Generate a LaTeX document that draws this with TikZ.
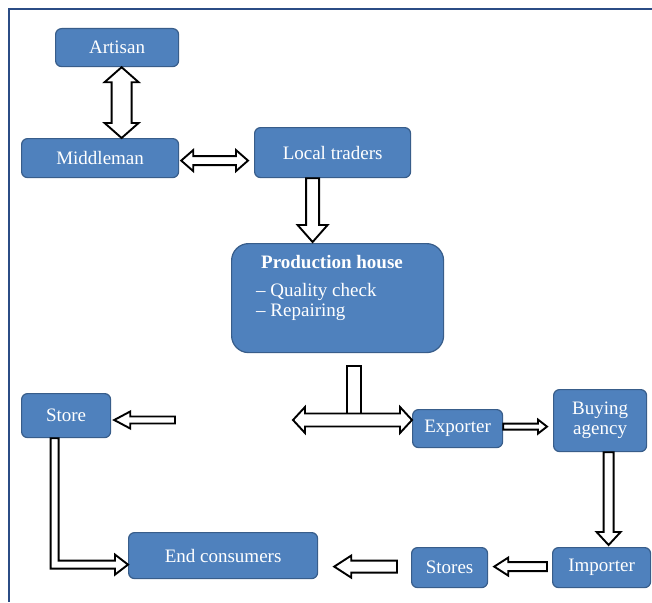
\documentclass[tikz,border=0pt]{standalone}
\usepackage{fontspec}
\setmainfont{Liberation Serif}
\usetikzlibrary{calc}
\definecolor{boxfill}{HTML}{4F81BD}
\definecolor{boxline}{HTML}{385D8A}
\definecolor{framecol}{HTML}{2B4C85}
\newcommand\dfs{\fontsize{19}{20}\selectfont}
\tikzset{
  box/.style={draw=boxline, line width=1.2pt, fill=boxfill, rounded corners=6pt,
    text=white, font=\dfs, inner sep=0pt, anchor=north west, align=center},
  blk/.style={draw=black, line width=1.9pt, fill=white, line join=miter},
  framel/.style={draw=framecol, line width=2.6pt}
}
% horizontal single arrow: from, to, shaft half, head half, head length, dir (+1 right, -1 left)
\newcommand{\harr}[6]{%
 \draw[blk] let \p1=(#1), \p2=(#2) in
  (\x1,{\y1+#3}) -- ({\x2-(#6)*(#5)},{\y1+#3}) -- ({\x2-(#6)*(#5)},{\y1+#4}) -- (\x2,\y1)
  -- ({\x2-(#6)*(#5)},{\y1-#4}) -- ({\x2-(#6)*(#5)},{\y1-#3}) -- (\x1,{\y1-#3}) -- cycle;}
% vertical single arrow: dir (+1 up, -1 down)
\newcommand{\varr}[6]{%
 \draw[blk] let \p1=(#1), \p2=(#2) in
  ({\x1+#3},\y1) -- ({\x1+#3},{\y2-(#6)*(#5)}) -- ({\x1+#4},{\y2-(#6)*(#5)}) -- (\x1,\y2)
  -- ({\x1-#4},{\y2-(#6)*(#5)}) -- ({\x1-#3},{\y2-(#6)*(#5)}) -- ({\x1-#3},\y1) -- cycle;}
% horizontal double arrow
\newcommand{\hdarr}[6]{%
 \draw[blk] let \p1=(#1), \p2=(#2) in
  (\x1,\y1) -- ({\x1+(#6)*(#5)},{\y1+#4}) -- ({\x1+(#6)*(#5)},{\y1+#3})
  -- ({\x2-(#6)*(#5)},{\y1+#3}) -- ({\x2-(#6)*(#5)},{\y1+#4}) -- (\x2,\y1)
  -- ({\x2-(#6)*(#5)},{\y1-#4}) -- ({\x2-(#6)*(#5)},{\y1-#3})
  -- ({\x1+(#6)*(#5)},{\y1-#3}) -- ({\x1+(#6)*(#5)},{\y1-#4}) -- cycle;}
% vertical double arrow
\newcommand{\vdarr}[6]{%
 \draw[blk] let \p1=(#1), \p2=(#2) in
  (\x1,\y1) -- ({\x1+#4},{\y1+(#6)*(#5)}) -- ({\x1+#3},{\y1+(#6)*(#5)})
  -- ({\x1+#3},{\y2-(#6)*(#5)}) -- ({\x1+#4},{\y2-(#6)*(#5)}) -- (\x1,\y2)
  -- ({\x1-#4},{\y2-(#6)*(#5)}) -- ({\x1-#3},{\y2-(#6)*(#5)})
  -- ({\x1-#3},{\y1+(#6)*(#5)}) -- ({\x1-#4},{\y1+(#6)*(#5)}) -- cycle;}
\begin{document}
\begin{tikzpicture}[x=1pt,y=-1pt]
\useasboundingbox (0,0) rectangle (652,602);
\fill[white] (0,0) rectangle (652,602);
\draw[framel] (652,9) -- (9,9) -- (9,602);

% nodes
\node[box, minimum width=123pt, minimum height=38pt] (Art) at (55,28) {Artisan};
\node[box, minimum width=157pt, minimum height=39pt] (Mid) at (21,138) {Middleman};
\node[box, minimum width=156pt, minimum height=50pt] (Loc) at (254,127) {Local traders};
\node[box, minimum width=212pt, minimum height=109pt, rounded corners=17pt] (Prod) at (231,243) {};
\node[anchor=north west, text=white, font=\dfs, align=left, inner sep=0pt] (ProdT)
  at ($(Prod.north west)+(25,12)$) {\hspace*{5pt}\textbf{Production house}\\[8pt]– Quality check\\– Repairing};
\node[box, minimum width=89pt, minimum height=44pt] (Store) at (21,393) {Store};
\node[box, minimum width=189pt, minimum height=46pt] (End) at (128,532) {End consumers};
\node[box, minimum width=90pt, minimum height=38pt] (Exp) at (412,409) {Exporter};
\node[box, minimum width=93pt, minimum height=62pt] (Buy) at (553,389) {Buying\\agency};
\node[box, minimum width=76pt, minimum height=40pt] (Sts) at (411,547) {Stores};
\node[box, minimum width=98pt, minimum height=40pt] (Imp) at (552,547) {Importer};

\coordinate (Tl) at (293,420);
\coordinate (Sr) at (175,420);

% connectors
\vdarr{$(Art.south)+(4.5,0)$}{Mid.north}{10pt}{17pt}{15pt}{-1}
\hdarr{$(Mid.east)+(2,2.5)$}{$(Loc.west)+(-6,0)$}{4.5pt}{10.5pt}{12pt}{1}
\varr{$(Loc.south)+(-20,0)$}{$(Prod.north)+(0,-1)$}{6.5pt}{15pt}{17pt}{-1}
\draw[blk] ($(Prod.south)+(9,13)$) rectangle ($(Prod.south)+(23,66)$);
\hdarr{Tl}{Exp.west}{6.5pt}{13pt}{12pt}{1}
\harr{Sr}{$(Store.east)+(3,0)$}{3.5pt}{8.5pt}{16pt}{-1}
\draw[blk] let \p1=($(Store.south)+(-11.5,0)$), \p2=($(End.west)+(0,9)$) in
  ({\x1-4pt},\y1) -- ({\x1-4pt},{\y2-4pt}) -- ({\x2-13pt},{\y2-4pt}) -- ({\x2-13pt},{\y2-10pt})
  -- (\x2,\y2) -- ({\x2-13pt},{\y2+10pt}) -- ({\x2-13pt},{\y2+4pt}) -- ({\x1+4pt},{\y2+4pt})
  -- ({\x1+4pt},\y1) -- cycle;
\harr{$(Exp.east)+(0,-2)$}{$(Buy.west)+(-6,0)$}{3pt}{7pt}{9pt}{1}
\varr{$(Buy.south)+(8.5,0)$}{$(Imp.north)+(0,-2)$}{5pt}{12pt}{13pt}{-1}
\harr{$(Imp.west)+(-5,-1)$}{$(Sts.east)+(6,0)$}{4.5pt}{9pt}{14pt}{-1}
\harr{$(Sts.west)+(-14,-1)$}{$(End.east)+(16,0)$}{6pt}{11pt}{17pt}{-1}
\end{tikzpicture}
\end{document}
